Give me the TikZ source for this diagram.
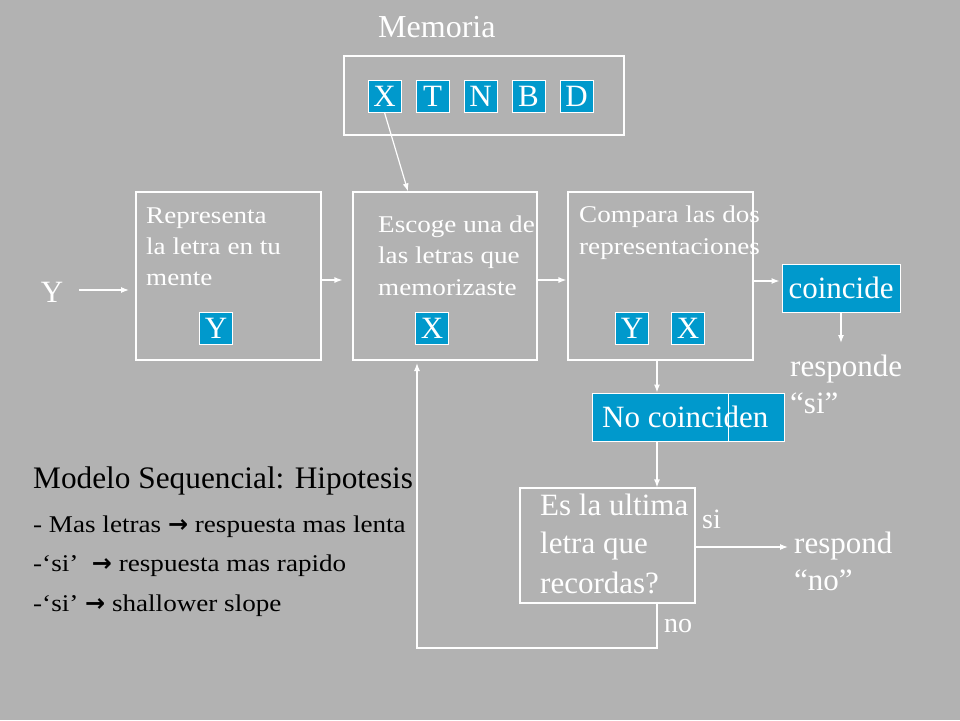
\documentclass[tikz,border=0pt]{standalone}
\usepackage{fontspec}
\setmainfont{Liberation Serif}
\newfontfamily\wide{Liberation Serif}[FakeStretch=1.13]
\newfontfamily\arrowfont{DejaVu Sans}
\usetikzlibrary{arrows.meta}
\definecolor{bggray}{RGB}{178,178,178}
\definecolor{lblue}{RGB}{0,153,204}
\tikzset{
  frame/.style={draw=white, line width=1.2pt, inner sep=0pt},
  letterbox/.style={draw=white, line width=1pt, fill=lblue, text=white, minimum width=33pt, minimum height=32pt, inner sep=0pt, font=\fontsize{31}{31}\selectfont},
  arr/.style={draw=white, line width=1.2pt, -{Latex[length=8pt,width=6pt]}},
  wtext/.style={text=white, inner sep=0pt, anchor=base west, font=\fontsize{31}{31}\selectfont},
  btext/.style={text=white, inner sep=0pt, anchor=base west, font=\wide\fontsize{24}{24}\selectfont},
  ktext/.style={text=black, inner sep=0pt, anchor=base west, font=\wide\fontsize{24}{24}\selectfont},
}
\newcommand{\heavyarrow}{{\arrowfont\bfseries →}}
\begin{document}
\begin{tikzpicture}[x=1pt,y=-1pt]
\useasboundingbox (0,0) rectangle (960,720);
\fill[bggray] (0,0) rectangle (960,720);

% memory
\node[wtext, font=\fontsize{32}{32}\selectfont] (memtitle) at (378,37) {Memoria};
\node[frame, minimum width=280pt, minimum height=79pt] (mem) at (484,95.5) {};
\node[letterbox] (mX) at (384.5,96) {X};
\node[letterbox] (mT) at (432.5,96) {T};
\node[letterbox] (mN) at (480.5,96) {N};
\node[letterbox] (mB) at (528.5,96) {B};
\node[letterbox] (mD) at (576.5,96) {D};

% process boxes
\node[frame, minimum width=185pt, minimum height=168pt] (b1) at (228.5,276) {};
\node[frame, minimum width=184pt, minimum height=168pt] (b2) at (445,276) {};
\node[frame, minimum width=185pt, minimum height=168pt] (b3) at (660.5,276) {};

\node[btext] (b1l1) at (146,223) {Representa};
\node[btext] (b1l2) at (146,254) {la letra en tu};
\node[btext] (b1l3) at (146,285) {mente};
\node[btext] (b2l1) at (378,232) {Escoge una de};
\node[btext] (b2l2) at (378,263) {las letras que};
\node[btext] (b2l3) at (378,295) {memorizaste};
\node[btext] (b3l1) at (579,222) {Compara las dos};
\node[btext] (b3l2) at (579,254) {representaciones};

\node[letterbox] (y1) at (216,328) {Y};
\node[letterbox] (x2) at (432,328) {X};
\node[letterbox] (y3) at (632,328) {Y};
\node[letterbox] (x3) at (688,328) {X};

% input
\node[text=white, inner sep=0pt, font=\fontsize{31}{31}\selectfont] (yin) at (52,292) {Y};
\coordinate (yinend) at (129,290);
\draw[arr] ([xshift=16pt,yshift=2pt]yin.east) -- (yinend);

\draw[arr] ([yshift=-4pt]b1.east) -- ([xshift=-10pt,yshift=-4pt]b2.west);
\draw[arr] ([yshift=-4pt]b2.east) -- ([xshift=-1pt,yshift=-4pt]b3.west);
\draw[arr] (mX.south) -- ([xshift=-37pt]b2.north);

% coincide
\node[letterbox, minimum width=118pt, minimum height=48pt, font=\fontsize{31}{31}\selectfont] (coin) at (841,288) {coincide};
\draw[arr] ([yshift=-5pt]b3.east) -- ([xshift=-2pt,yshift=7pt]coin.west);
\coordinate (coinend) at (841,343);
\draw[arr] (coin.south) -- (coinend);
\node[wtext] (resp1) at (790,376) {responde};
\node[wtext] (resp2) at (790,413) {“si”};

% no coinciden
\node[letterbox, minimum width=136pt, minimum height=48pt] (nc1) at (660,417) {};
\node[letterbox, minimum width=56pt, minimum height=48pt] (nc2) at (756,417) {};
\node[wtext] (nctext) at (602,427) {No coinciden};
\draw[arr] ([xshift=-3.5pt]b3.south) -- ([xshift=-3pt]nc1.north);

% last letter question
\node[frame, minimum width=175pt, minimum height=115pt] (es) at (607.5,545.5) {};
\draw[arr] ([xshift=-3pt]nc1.south) -- ([xshift=49.5pt]es.north);
\node[wtext] (esl1) at (540,515) {Es la ultima};
\node[wtext] (esl2) at (540,553) {letra que};
\node[wtext] (esl3) at (540,593) {recordas?};
\node[wtext, font=\fontsize{28}{28}\selectfont] (si) at (702,528) {si};
\coordinate (respin) at (788,547);
\draw[arr] ([yshift=-1.5pt]es.east) -- (respin);
\node[wtext] (rno1) at (794,553) {respond};
\node[wtext] (rno2) at (794,590) {“no”};
\node[wtext, font=\fontsize{28}{28}\selectfont] (no) at (664,632) {no};
\coordinate (loopturn) at (417,648);
\coordinate (loopend) at (417,363);
\draw[arr] ([xshift=49.5pt]es.south) |- (loopturn) -- (loopend);

% hypothesis text
\node[text=black, inner sep=0pt, anchor=base west, font=\fontsize{31.3}{31.3}\selectfont] (model) at (33,488) {Modelo Sequencial: Hipotesis};
\node[ktext] (h1) at (33,532) {- Mas letras \heavyarrow{} respuesta mas lenta};
\node[ktext] (h2) at (33,571) {-‘si’ ~\heavyarrow{} respuesta mas rapido};
\node[ktext] (h3) at (33,611) {-‘si’ \heavyarrow{} shallower slope};
\end{tikzpicture}
\end{document}
